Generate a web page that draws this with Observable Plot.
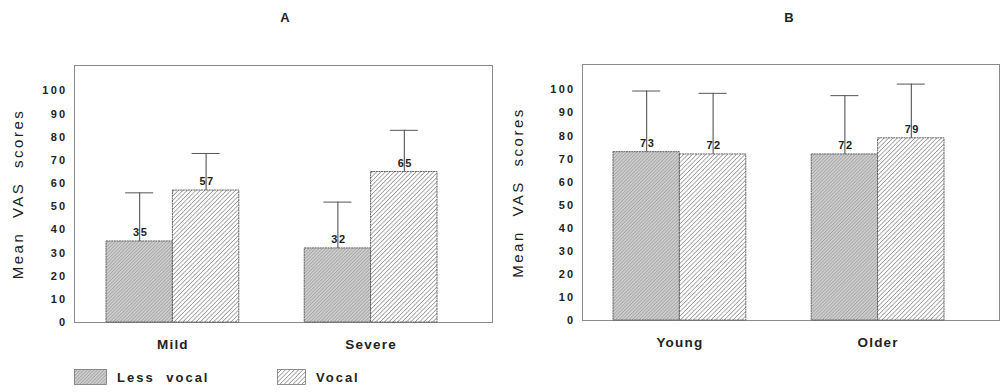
<!DOCTYPE html>
<html><head><meta charset="utf-8">
<script src="https://cdn.jsdelivr.net/npm/d3@7"></script>
<script src="https://cdn.jsdelivr.net/npm/@observablehq/plot@0.6"></script>
<style>
body{margin:0;background:#fff;font-family:"Liberation Sans",Arial,sans-serif;}
#wrap{position:relative;width:1000px;height:392px;overflow:hidden;background:#fff;}
.panel{position:absolute;top:0;z-index:1;}
.panel svg text{fill:#222;}
.ptitle{position:absolute;top:10px;font-size:13px;line-height:15px;font-weight:bold;color:#222;z-index:5;transform:translateX(-50%);}
.leg{position:absolute;top:369px;display:flex;align-items:center;font-size:13px;font-weight:bold;color:#222;letter-spacing:2px;word-spacing:6px;z-index:5;}
.leg svg{margin-right:10px;}
.panel g[aria-label="y-axis tick label"] text, .panel g[aria-label="y-axis"] .tick text{font-weight:bold;font-size:11px;letter-spacing:2.3px;}
.panel g[aria-label="x-axis tick label"] text, .panel g[aria-label="x-axis"] .tick text{font-weight:bold;font-size:13.5px;letter-spacing:1.2px;}
.panel g[aria-label="y-axis label"] text, .panel g[aria-label="y-axis"] .label{font-size:15px;letter-spacing:2.5px;word-spacing:7px;font-weight:normal;}
.vlab text{font-weight:bold;font-size:11px;letter-spacing:1.5px;}
</style>
</head><body>
<svg width="0" height="0" style="position:absolute">
  <defs>
    <pattern id="lessPat" patternUnits="userSpaceOnUse" width="2.4" height="2.4" patternTransform="rotate(45)">
      <rect width="2.4" height="2.4" fill="#cdcdcd"></rect>
      <line x1="0" y1="0" x2="0" y2="2.4" stroke="#7c7c7c" stroke-width="0.8"></line>
    </pattern>
    <pattern id="vocalPat" patternUnits="userSpaceOnUse" width="3.1" height="3.1" patternTransform="rotate(45)">
      <rect width="3.1" height="3.1" fill="#ffffff"></rect>
      <line x1="0" y1="0" x2="0" y2="3.1" stroke="#2e2e2e" stroke-width="0.8"></line>
    </pattern>
  </defs>
</svg>
<div id="wrap">
  <div id="pa" class="panel" style="left:0px"></div>
  <div id="pb" class="panel" style="left:500px"></div>
  <div class="ptitle" style="left:285px">A</div>
  <div class="ptitle" style="left:789px">B</div>
  <div class="leg" style="left:74px"><svg width="33" height="16"><rect x="0.5" y="0.5" width="32" height="15" fill="url(#lessPat)" stroke="#777" stroke-width="0.8"></rect></svg><span>Less vocal</span></div>
  <div class="leg" style="left:277px"><svg width="29" height="16"><rect x="0.5" y="0.5" width="28" height="15" fill="url(#vocalPat)" stroke="#777" stroke-width="0.8"></rect></svg><span>Vocal</span></div>
</div>
<script>
// ---- data ----
const seriesNames = ["Less vocal", "Vocal"];
const yTicks = [0, 10, 20, 30, 40, 50, 60, 70, 80, 90, 100];
const yLabel = "Mean VAS scores";

// Panel A
const groupsA = ["Mild", "Severe"];
const lessA = [35, 32];
const vocalA = [57, 65];
const lessErrTopA = [56, 52];
const vocalErrTopA = [73, 83];

// Panel B
const groupsB = ["Young", "Older"];
const lessB = [73, 72];
const vocalB = [72, 79];
const lessErrTopB = [99.5, 97.5];
const vocalErrTopB = [98.5, 102.5];

function rows(groups, vals, errs, series) {
  return groups.map((g, i) => ({group: g, series, value: vals[i], err: errs[i]}));
}

function panel(cfg) {
  const less = rows(cfg.groups, cfg.less, cfg.lessErr, seriesNames[0]);
  const vocal = rows(cfg.groups, cfg.vocal, cfg.vocalErr, seriesNames[1]);
  const pi = 0.33;
  const bw = d3.scaleBand().domain(cfg.groups).range(cfg.xRange).paddingInner(pi).paddingOuter(0).bandwidth();
  const half = bw / 2, q = bw / 4, cap = 14;
  const barStyle = {stroke: "#555", strokeWidth: 0.9, strokeDasharray: "2,0.6"};
  const plot = Plot.plot({
    width: 500, height: 360,
    marginTop: cfg.mt, marginBottom: cfg.mb, marginLeft: cfg.ml, marginRight: cfg.mr,
    style: {fontFamily: "'Liberation Sans', Arial, sans-serif", background: "#fff"},
    x: {domain: cfg.groups, range: cfg.xRange, paddingInner: pi, paddingOuter: 0, round: false,
        tickSize: 0, tickPadding: 17, label: null},
    y: {domain: [0, 111], ticks: yTicks, tickSize: 0, tickPadding: 7, tickFormat: d => String(d),
        label: yLabel, labelAnchor: "center", labelOffset: cfg.ml - 12, labelArrow: "none"},
    marks: [
      Plot.frame({stroke: "#8a8a8a", strokeWidth: 1}),
      Plot.barY(less, {x: "group", y: "value", fill: "url(#lessPat)", insetRight: half, ...barStyle}),
      Plot.barY(vocal, {x: "group", y: "value", fill: "url(#vocalPat)", insetLeft: half, ...barStyle}),
      Plot.ruleX(less, {x: "group", y1: "value", y2: "err", dx: -q, stroke: "#444", strokeWidth: 1}),
      Plot.ruleX(vocal, {x: "group", y1: "value", y2: "err", dx: q, stroke: "#444", strokeWidth: 1}),
      Plot.tickY(less, {x: "group", y: "err", insetLeft: q - cap, insetRight: bw - q - cap, stroke: "#555", strokeWidth: 1}),
      Plot.tickY(vocal, {x: "group", y: "err", insetLeft: 3 * q - cap, insetRight: q - cap, stroke: "#555", strokeWidth: 1}),
      Plot.text(less, {x: "group", y: "value", text: d => String(d.value), dx: -q + 1, dy: -9, className: "vlab"}),
      Plot.text(vocal, {x: "group", y: "value", text: d => String(d.value), dx: q + 1, dy: -9, className: "vlab"})
    ]
  });
  return plot;
}

document.getElementById("pa").appendChild(panel({
  groups: groupsA, less: lessA, vocal: vocalA, lessErr: lessErrTopA, vocalErr: vocalErrTopA,
  xRange: [106, 437], mt: 65, mb: 38, ml: 74, mr: 8
}));
document.getElementById("pb").appendChild(panel({
  groups: groupsB, less: lessB, vocal: vocalB, lessErr: lessErrTopB, vocalErr: vocalErrTopB,
  xRange: [113, 444], mt: 64, mb: 40, ml: 82, mr: 1
}));
</script>
</body></html>
